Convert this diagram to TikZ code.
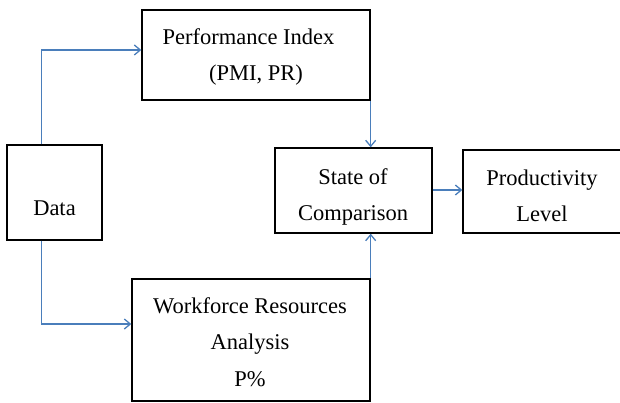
\documentclass[tikz,border=0pt]{standalone}
\usepackage{fontspec}
\setmainfont{Liberation Serif}
\usetikzlibrary{arrows.meta}
\definecolor{linkblue}{HTML}{4A7EBB}
\begin{document}
\begin{tikzpicture}[x={(1pt,0)}, y={(0,-1pt)},
  box/.style={draw=black, line width=1.4pt, inner sep=0pt},
  label text/.style={align=center, inner sep=0pt,
    font=\fontsize{22.5}{36.5}\selectfont},
  link/.style={draw=linkblue, line width=1.3pt,
    -{Straight Barb[length=6pt,width=10pt,line width=1.3pt]}}]
  \useasboundingbox (0,0) rectangle (620,403);

  % frames
  \node[box, minimum width=228pt, minimum height=90pt]  (perf) at (256,55) {};
  \node[box, minimum width=157pt, minimum height=85pt]  (state) at (353.5,190.5) {};
  \node[box, minimum width=158pt, minimum height=83pt]  (prod) at (542,191.5) {};
  \node[box, minimum width=95pt,  minimum height=95pt]  (data) at (54.5,192.5) {};
  \node[box, minimum width=238pt, minimum height=122pt] (work) at (251,340) {};

  % captions
  \node[label text] (perftext)  at (256,57)   {Performance Index\hspace*{15pt}\\(PMI, PR)};
  \node[label text] (statetext) at (353,197)  {State of\\Comparison};
  \node[label text] (prodtext)  at (542,196)  {Productivity\\Level};
  \node[label text] (datatext)  at (54.5,208) {Data};
  \node[label text] (worktext)  at (250,342)  {Workforce Resources\\Analysis\\P\%};

  % connectors
  \draw[link] ([xshift=35pt]data.north west) |- ([yshift=5pt]perf.west);
  \draw[link] ([xshift=35pt]data.south west) |- ([yshift=16pt]work.west);
  \draw[link] (perf.south east) -- (perf.south east |- state.north);
  \draw[link] (work.north east) -- (work.north east |- state.south);
  \draw[link] ([yshift=0.5pt]state.east) -- ([yshift=0.5pt]state.east -| prod.west);
\end{tikzpicture}
\end{document}
